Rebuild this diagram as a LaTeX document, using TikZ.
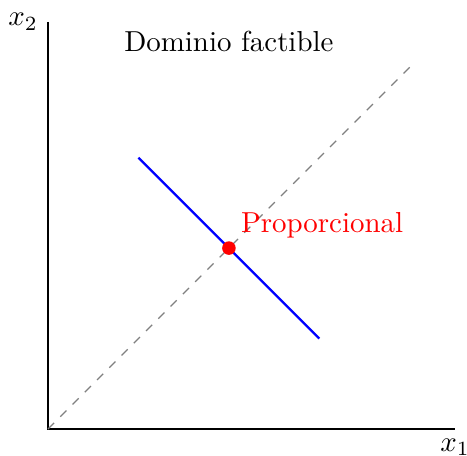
\documentclass[tikz,border=0pt]{standalone}
\usepackage{amsmath,amssymb}
\usepackage{xcolor}
\usepackage{tikz}
\usetikzlibrary{positioning}

\begin{document}
\begin{tikzpicture}[
  x=0.55cm,y=0.55cm,
  axis/.style={thick},
  ray/.style={dashed,gray},
  budget/.style={blue,thick},
  pt/.style={circle,fill=red,inner sep=0pt,minimum size=0.3*0.55cm},
  lbl/.style={inner sep=3.33pt},
]
\useasboundingbox (-1.061,-0.575) rectangle (9.264,9.485);
\coordinate (O) at (0,0);
\coordinate (xend) at (9,0);
\coordinate (yend) at (0,9);
\coordinate (rayend) at (8,8);
\coordinate (bA) at (2,6);
\coordinate (bB) at (6,2);

\draw[axis] (yend) -- (O) -- (xend);
\node[lbl,below] (xlab) at (xend) {$x_1$};
\node[lbl,left] (ylab) at (yend) {$x_2$};

\draw[ray] (O) -- (rayend);
\draw[budget] (bA) -- (bB);
\node[pt] (prop) at (4,4) {};
\node[lbl,text=red] (proplab) at (6.06,4.50) {Proporcional};
\node[lbl] (dom) at (4,8.57) {Dominio factible};
\end{tikzpicture}
\end{document}
